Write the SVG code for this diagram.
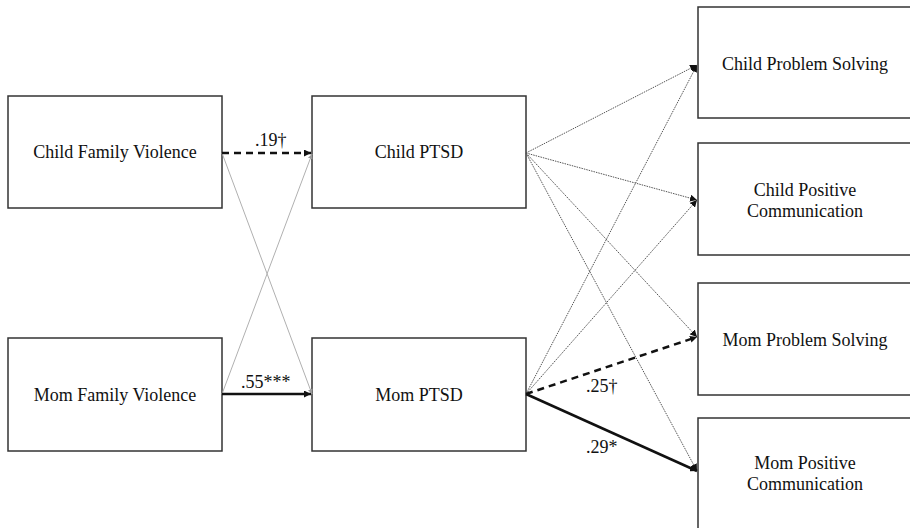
<svg xmlns="http://www.w3.org/2000/svg" width="910" height="528" viewBox="0 0 910 528">
<style>
.box{fill:#fff;stroke:#333;stroke-width:1.5}
.t{font-family:"Liberation Serif","Times New Roman",serif;font-size:18px;fill:#111;text-anchor:middle}
.lbl{font-family:"Liberation Serif","Times New Roman",serif;font-size:18px;fill:#111}
.dot{stroke:#555;stroke-width:1;stroke-dasharray:1.5 1;fill:none}
.gray{stroke:#b0b0b0;stroke-width:1;fill:none}
.dash{stroke:#111;stroke-width:2.5;stroke-dasharray:7 5;fill:none}
.solid{stroke:#111;stroke-width:2.5;fill:none}
</style>
<defs>
<marker id="ah" viewBox="0 0 10 10" refX="10" refY="5" markerWidth="7" markerHeight="7" markerUnits="userSpaceOnUse" orient="auto">
<path d="M0,0 L10,5 L0,10 z" fill="#111"/>
</marker>
<marker id="ahg" viewBox="0 0 10 10" refX="10" refY="5" markerWidth="5" markerHeight="5" markerUnits="userSpaceOnUse" orient="auto">
<path d="M0,0 L10,5 L0,10 z" fill="#999"/>
</marker>
</defs>
<rect width="910" height="528" fill="#fff"/>
<g id="cfv"><rect class="box" x="8" y="96" width="214" height="112"/><text class="t" x="115" y="158">Child Family Violence</text></g>
<g id="cptsd"><rect class="box" x="312" y="96" width="214" height="112"/><text class="t" x="419" y="158">Child PTSD</text></g>
<g id="mfv"><rect class="box" x="8" y="338" width="214" height="113"/><text class="t" x="115" y="401">Mom Family Violence</text></g>
<g id="mptsd"><rect class="box" x="312" y="338" width="214" height="113"/><text class="t" x="419" y="401">Mom PTSD</text></g>
<g id="cps"><rect class="box" x="698" y="7" width="216" height="111"/><text class="t" x="805" y="70">Child Problem Solving</text></g>
<g id="cpc"><rect class="box" x="698" y="143" width="216" height="112"/><text class="t" x="805" y="196">Child Positive</text><text class="t" x="805" y="217">Communication</text></g>
<g id="mps"><rect class="box" x="698" y="283" width="216" height="112"/><text class="t" x="805" y="346">Mom Problem Solving</text></g>
<g id="mpc"><rect class="box" x="698" y="418" width="216" height="120"/><text class="t" x="805" y="469">Mom Positive</text><text class="t" x="805" y="490">Communication</text></g>
<g id="connectors">
<line class="gray" x1="222" y1="153" x2="312" y2="394" marker-end="url(#ahg)"/>
<line class="gray" x1="222" y1="394" x2="312" y2="154" marker-end="url(#ahg)"/>
<line class="dash" x1="222" y1="153" x2="311" y2="153" marker-end="url(#ah)"/>
<line class="solid" x1="222" y1="394" x2="311" y2="394" marker-end="url(#ah)"/>
<line class="dot" x1="526" y1="153" x2="697" y2="65" marker-end="url(#ah)"/>
<line class="dot" x1="526" y1="153" x2="697" y2="200" marker-end="url(#ah)"/>
<line class="dot" x1="526" y1="153" x2="697" y2="337" marker-end="url(#ah)"/>
<line class="dot" x1="526" y1="153" x2="697" y2="471" marker-end="url(#ah)"/>
<line class="dot" x1="526" y1="394" x2="697" y2="65" marker-end="url(#ah)"/>
<line class="dot" x1="526" y1="394" x2="697" y2="200" marker-end="url(#ah)"/>
<line class="dash" x1="526" y1="394" x2="697" y2="337" marker-end="url(#ah)"/>
<line class="solid" x1="526" y1="394" x2="697" y2="471" marker-end="url(#ah)"/>
<text class="lbl" x="255" y="146">.19†</text>
<text class="lbl" x="241" y="388">.55***</text>
<text class="lbl" x="586" y="392">.25†</text>
<text class="lbl" x="586" y="453">.29*</text>
</g>
</svg>
